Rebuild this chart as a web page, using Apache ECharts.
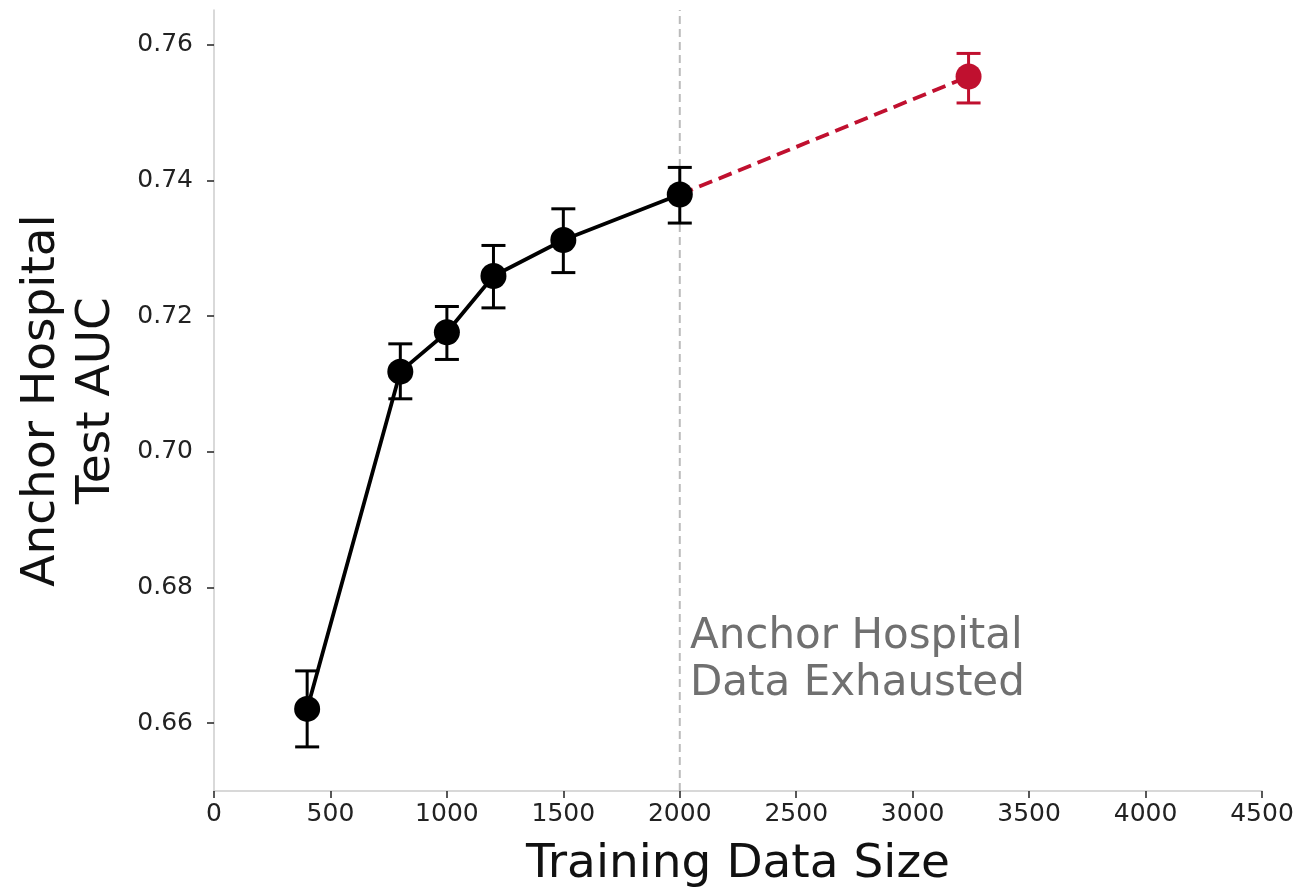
<!DOCTYPE html>
<html>
<head>
<meta charset="utf-8">
<script src="https://cdn.jsdelivr.net/npm/echarts@6/dist/echarts.min.js"></script>
<style>
  html, body { margin: 0; padding: 0; background: #fff; }
  #chart { width: 1307px; height: 893px; }
</style>
</head>
<body>
<div id="chart"></div>
<script>
// Learning curve on the anchor hospital's own data
const sizes = [400, 800, 1000, 1200, 1500, 2000];
const auc = [0.6621, 0.7118, 0.7176, 0.7259, 0.7312, 0.7379];
const aucLow = [0.6565, 0.7078, 0.7136, 0.7212, 0.7264, 0.7337];
const aucHigh = [0.6677, 0.7159, 0.7214, 0.7304, 0.7358, 0.7419];

// Extended point once external data is added
const extSize = [3240];
const extAuc = [0.7553];
const extLow = [0.7514];
const extHigh = [0.7587];

const exhaustedAt = 2000;
const yTicks = [0.66, 0.68, 0.70, 0.72, 0.74, 0.76];

const FONT = 'DejaVu Sans';
const BLACK = '#000000';
const RED = '#c0102f';

function errorBars(color) {
  return function (params, api) {
    const x = api.value(0);
    const lo = api.coord([x, api.value(1)]);
    const hi = api.coord([x, api.value(2)]);
    const cap = 12;
    const style = { stroke: color, lineWidth: 3 };
    return {
      type: 'group',
      children: [
        { type: 'line', shape: { x1: lo[0], y1: lo[1], x2: hi[0], y2: hi[1] }, style },
        { type: 'line', shape: { x1: lo[0] - cap, y1: lo[1], x2: lo[0] + cap, y2: lo[1] }, style },
        { type: 'line', shape: { x1: hi[0] - cap, y1: hi[1], x2: hi[0] + cap, y2: hi[1] }, style }
      ]
    };
  };
}

const mainPts = sizes.map((s, i) => [s, auc[i]]);
const mainErr = sizes.map((s, i) => [s, aucLow[i], aucHigh[i]]);
const extLine = [[sizes[sizes.length - 1], auc[auc.length - 1]], [extSize[0], extAuc[0]]];
const extErr = extSize.map((s, i) => [s, extLow[i], extHigh[i]]);

const chart = echarts.init(document.getElementById('chart'), null, { renderer: 'canvas' });
chart.setOption({
  animation: false,
  backgroundColor: '#ffffff',
  grid: { left: 214, right: 45, top: 10, bottom: 102, containLabel: false, outerBoundsMode: 'none' },
  xAxis: {
    type: 'value',
    min: 0, max: 4500, interval: 500,
    name: 'Training Data Size',
    nameLocation: 'middle',
    nameGap: 50,
    nameTextStyle: { fontFamily: FONT, fontSize: 47, color: '#111' },
    axisLine: { show: true, lineStyle: { color: '#cccccc', width: 1.5 } },
    axisTick: { show: true, inside: false, length: 7, lineStyle: { color: '#222', width: 1.5 } },
    axisLabel: { fontFamily: FONT, fontSize: 25, color: '#222', margin: 11, formatter: v => String(v) },
    splitLine: { show: false }
  },
  yAxis: {
    type: 'value',
    min: 0.65, max: 0.7651,
    name: 'Anchor Hospital\nTest AUC',
    nameLocation: 'middle',
    nameGap: 90,
    nameRotate: 90,
    nameTextStyle: { fontFamily: FONT, fontSize: 47, color: '#111', lineHeight: 55 },
    axisLine: { show: true, lineStyle: { color: '#cccccc', width: 1.5 } },
    axisTick: { show: true, inside: false, length: 7, customValues: yTicks, lineStyle: { color: '#222', width: 1.5 } },
    axisLabel: {
      fontFamily: FONT, fontSize: 25, color: '#222', margin: 21,
      customValues: yTicks,
      formatter: v => v.toFixed(2)
    },
    splitLine: { show: false }
  },
  series: [
    {
      type: 'line',
      data: [[exhaustedAt, 0.65], [exhaustedAt, 0.7651]],
      symbol: 'none',
      lineStyle: { color: '#bbbbbb', width: 2, type: [8, 5] },
      silent: true, z: 1
    },
    {
      type: 'custom',
      data: mainErr,
      renderItem: errorBars(BLACK),
      encode: { x: 0, y: [1, 2] },
      z: 2
    },
    {
      type: 'custom',
      data: extErr,
      renderItem: errorBars(RED),
      encode: { x: 0, y: [1, 2] },
      z: 2
    },
    {
      type: 'line',
      data: extLine,
      symbol: 'none',
      lineStyle: { color: RED, width: 3.8, type: [14, 7] },
      z: 3
    },
    {
      type: 'line',
      data: mainPts,
      symbol: 'circle',
      symbolSize: 26,
      itemStyle: { color: BLACK, opacity: 1 },
      lineStyle: { color: BLACK, width: 3.8 },
      z: 4
    },
    {
      type: 'scatter',
      data: extSize.map((s, i) => [s, extAuc[i]]),
      symbol: 'circle',
      symbolSize: 26,
      itemStyle: { color: RED, opacity: 1 },
      z: 4
    }
  ],
  graphic: [
    {
      type: 'text',
      left: 690,
      top: 614,
      style: {
        text: 'Anchor Hospital\nData Exhausted',
        fontFamily: FONT,
        fontSize: 42,
        lineHeight: 47,
        fill: '#707070'
      },
      z: 5
    }
  ]
});
</script>
</body>
</html>
